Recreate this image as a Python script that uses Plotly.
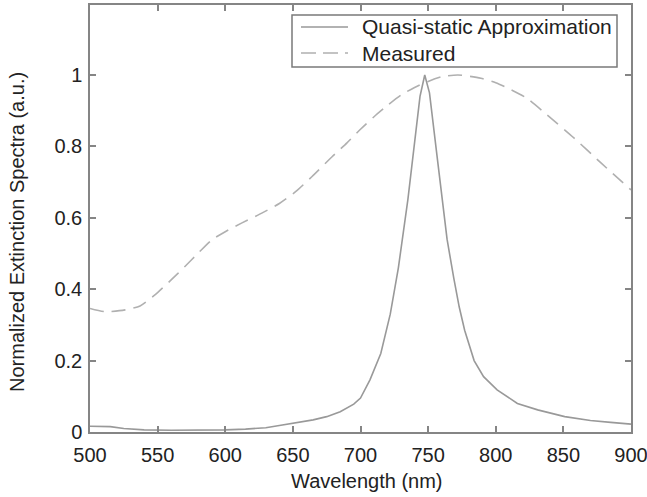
import plotly.graph_objects as go

# Quasi-static approximation (solid)
quasi_wl = [500, 515, 525, 540, 560, 580, 600, 615, 630, 640, 650, 665, 675, 685,
            695, 700, 707, 715, 722, 728, 735, 740, 744, 747.5, 751, 757, 764, 769,
            773, 777, 784, 791, 801, 816, 831, 851, 870, 885, 900]
quasi_val = [0.016, 0.015, 0.010, 0.006, 0.005, 0.005, 0.006, 0.008, 0.012, 0.018,
             0.024, 0.034, 0.043, 0.057, 0.078, 0.095, 0.146, 0.22, 0.33, 0.46, 0.65,
             0.81, 0.94, 1.0, 0.95, 0.76, 0.54, 0.43, 0.35, 0.285, 0.20, 0.155, 0.118,
             0.080, 0.062, 0.043, 0.032, 0.027, 0.022]

# Measured (dashed)
meas_wl = [500, 511, 526, 537, 548, 560, 570, 581, 590, 600, 612, 627, 640, 652, 664,
           679, 690, 700, 710, 720, 730, 740, 750, 760, 772, 789, 800, 809, 823, 838,
           858, 878, 900]
meas_val = [0.346, 0.337, 0.342, 0.353, 0.384, 0.426, 0.463, 0.505, 0.538, 0.561, 0.585,
            0.613, 0.640, 0.673, 0.715, 0.771, 0.810, 0.848, 0.883, 0.915, 0.944, 0.965,
            0.982, 0.995, 1.0, 0.991, 0.978, 0.963, 0.935, 0.888, 0.823, 0.753, 0.678]

series_names = ["Quasi-static Approximation", "Measured"]
x_ticks = [500, 550, 600, 650, 700, 750, 800, 850, 900]
y_ticks = [0, 0.2, 0.4, 0.6, 0.8, 1]
y_tick_text = ["0", "0.2", "0.4", "0.6", "0.8", "1"]

FONT = "Liberation Sans, Arial, sans-serif"
TXT = "#222222"
AX = "#858585"
SOLID = "#999999"
DASHC = "#b0b0b0"
DASH = "14px,8px"

# plot-area geometry in pixels (for converting legend placement to paper coords)
L, R, T, B = 90, 631, 5, 432
def px(x):
    return (x - L) / (R - L)
def py(y):
    return (B - y) / (B - T)

fig = go.Figure()
fig.add_trace(go.Scatter(x=quasi_wl, y=quasi_val, mode="lines",
                         name=series_names[0], showlegend=False,
                         line=dict(color=SOLID, width=1.6)))
fig.add_trace(go.Scatter(x=meas_wl, y=meas_val, mode="lines", name=series_names[1],
                         showlegend=False,
                         line=dict(color=DASHC, width=1.6, dash=DASH,
                                   shape="spline", smoothing=0.6)))

# legend box drawn in the Matlab style
shapes = [
    dict(type="rect", xref="paper", yref="paper", x0=px(292), x1=px(617),
         y0=py(67), y1=py(15), line=dict(color="#7a7a7a", width=1.5),
         fillcolor="white", layer="above"),
    dict(type="line", xref="paper", yref="paper", x0=px(301), x1=px(348),
         y0=py(27), y1=py(27), line=dict(color=SOLID, width=1.6), layer="above"),
    dict(type="line", xref="paper", yref="paper", x0=px(301), x1=px(348),
         y0=py(53), y1=py(53), line=dict(color=DASHC, width=1.6, dash="15px,7px"),
         layer="above"),
]

annotations = [
    dict(text=series_names[0], xref="paper", yref="paper", x=px(360), y=py(27),
         xanchor="left", yanchor="middle", showarrow=False,
         font=dict(family=FONT, size=21, color=TXT)),
    dict(text=series_names[1], xref="paper", yref="paper", x=px(360), y=py(53),
         xanchor="left", yanchor="middle", showarrow=False,
         font=dict(family=FONT, size=21, color=TXT)),
    dict(text="Wavelength (nm)", xref="paper", yref="paper",
         x=px(367), y=py(481), xanchor="center", yanchor="middle",
         showarrow=False, font=dict(family=FONT, size=20, color=TXT)),
    dict(text="Normalized Extinction Spectra (a.u.)", xref="paper", yref="paper",
         x=px(17), y=py(232), xanchor="center", yanchor="middle", textangle=-90,
         showarrow=False, font=dict(family=FONT, size=20, color=TXT)),
]

fig.update_layout(
    width=647, height=497,
    margin=dict(l=L, r=647 - R, t=T, b=497 - B, autoexpand=False),
    paper_bgcolor="white", plot_bgcolor="white",
    font=dict(family=FONT, size=20, color=TXT),
    showlegend=False,
    xaxis=dict(range=[500, 900], tickvals=x_ticks, ticks="inside", ticklen=6,
               tickcolor=AX, tickwidth=1.5, showline=True, linecolor=AX,
               linewidth=1.5, mirror="ticks", showgrid=False, zeroline=False,
               ticklabelstandoff=4, ticklabeloverflow="allow", automargin=False,
               tickfont=dict(family=FONT, size=20, color=TXT)),
    yaxis=dict(range=[0, 1.196], tickvals=y_ticks, ticktext=y_tick_text,
               ticks="inside", ticklen=6, tickcolor=AX, tickwidth=1.5,
               showline=True, linecolor=AX, linewidth=1.5, mirror="ticks",
               showgrid=False, zeroline=False, ticklabelstandoff=2,
               ticklabeloverflow="allow", automargin=False,
               tickfont=dict(family=FONT, size=20, color=TXT)),
    shapes=shapes,
    annotations=annotations,
)

fig.write_html("out.html", config={"displayModeBar": False},
               post_script="document.body.style.margin='0';document.body.style.overflow='hidden';")
